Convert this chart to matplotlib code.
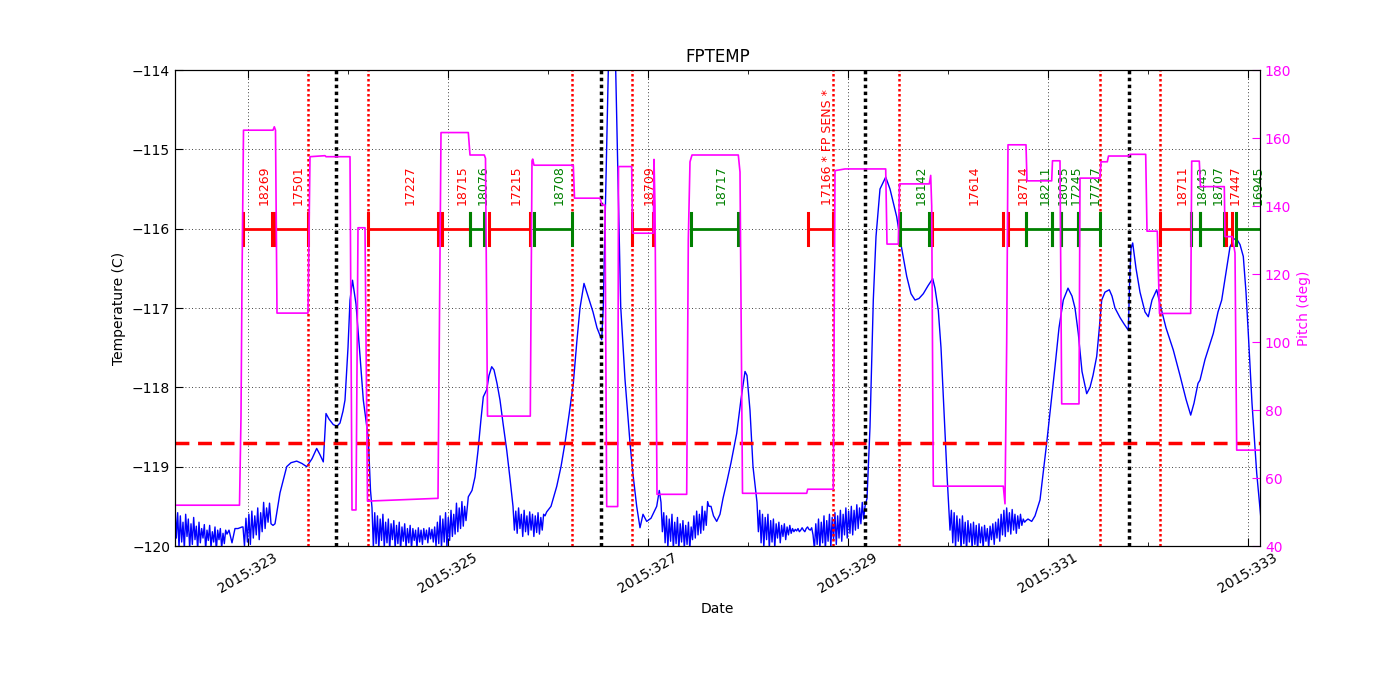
import numpy as np
import matplotlib
matplotlib.use('Agg')
import matplotlib.pyplot as plt
from matplotlib.ticker import FixedLocator

# FPTEMP, smooth stretches (day of 2015, deg C)
temp_days = [322.81, 322.84, 322.87, 322.90, 322.94,
             323.25, 323.27, 323.32, 323.387, 323.43, 323.487, 323.54, 323.587, 323.64, 323.687,
             323.72, 323.753, 323.78, 323.81, 323.853, 323.89, 323.92, 323.95, 323.97, 324.00,
             324.02, 324.045, 324.08, 324.12, 324.153, 324.203, 324.225,
             325.203, 325.24, 325.27, 325.30, 325.33, 325.353, 325.387, 325.41, 325.437, 325.46,
             325.49, 325.52, 325.55, 325.587, 325.62,
             325.987, 326.03, 326.087, 326.13, 326.17, 326.21, 326.253, 326.29, 326.32, 326.36,
             326.40, 326.45, 326.49, 326.537, 326.553, 326.603, 326.64, 326.677, 326.727, 326.77,
             326.82, 326.85, 326.887, 326.92, 326.95, 326.987, 327.03, 327.087, 327.113,
             327.63, 327.655, 327.687, 327.72, 327.75, 327.787, 327.83, 327.887, 327.93, 327.97,
             327.99, 328.02, 328.05,
             329.19, 329.22, 329.253, 329.28, 329.32, 329.377, 329.42, 329.487, 329.53, 329.587,
             329.63, 329.67, 329.71, 329.753, 329.80, 329.847, 329.87, 329.903, 329.93, 329.96, 329.99,
             330.80, 330.837, 330.87, 330.92, 330.95, 330.987, 331.03, 331.07, 331.11, 331.153,
             331.20, 331.24, 331.27, 331.303, 331.34, 331.387, 331.42, 331.45, 331.487, 331.51,
             331.537, 331.57, 331.613, 331.64, 331.67, 331.72, 331.76, 331.803, 331.818, 331.83,
             331.847, 331.88, 331.92, 331.97, 332.003, 332.04, 332.087, 332.12, 332.18, 332.253,
             332.32, 332.38, 332.427, 332.46, 332.50, 332.52, 332.57, 332.653, 332.70, 332.737,
             332.78, 332.82, 332.86, 332.887, 332.92, 332.953, 332.98, 333.003, 333.04, 333.087,
             333.12, 333.14]
temp_vals = [-119.80, -119.96, -119.78, -119.78, -119.76,
             -119.74, -119.72, -119.33, -119.0, -118.95, -118.93, -118.96, -119.0, -118.9, -118.77,
             -118.85, -118.94, -118.33, -118.40, -118.47, -118.49, -118.45, -118.3, -118.16, -117.5,
             -116.9, -116.65, -116.95, -117.6, -118.16, -118.64, -119.3,
             -119.38, -119.3, -119.13, -118.8, -118.4, -118.12, -118.03, -117.85, -117.74, -117.78,
             -117.95, -118.16, -118.45, -118.79, -119.15,
             -119.57, -119.5, -119.25, -119.0, -118.7, -118.35, -117.95, -117.4, -117.0, -116.69,
             -116.85, -117.05, -117.25, -117.4, -116.98, -114.0, -112.7, -114.0, -116.98, -117.9,
             -118.7, -119.1, -119.5, -119.77, -119.6, -119.69, -119.65, -119.5, -119.3,
             -119.5, -119.62, -119.69, -119.6, -119.4, -119.2, -118.95, -118.58, -118.15, -117.8,
             -117.85, -118.29, -119.0,
             -119.40, -118.5, -116.9, -116.1, -115.5, -115.35, -115.5, -115.85, -116.2, -116.6,
             -116.82, -116.9, -116.88, -116.82, -116.72, -116.63, -116.75, -117.03, -117.5, -118.3, -119.1,
             -119.66, -119.69, -119.62, -119.42, -119.1, -118.7, -118.2, -117.74, -117.25, -116.9,
             -116.75, -116.85, -117.0, -117.32, -117.8, -118.08, -118.0, -117.85, -117.61, -117.3,
             -116.9, -116.8, -116.77, -116.85, -117.0, -117.12, -117.2, -117.28, -116.6, -116.25,
             -116.18, -116.5, -116.8, -117.05, -117.11, -116.9, -116.77, -116.95, -117.25, -117.53,
             -117.85, -118.15, -118.35, -118.2, -117.95, -117.91, -117.65, -117.32, -117.05, -116.9,
             -116.55, -116.23, -116.13, -116.13, -116.2, -116.35, -116.8, -117.32, -118.2, -119.08,
             -119.52, -119.8]

# noisy stretches of FPTEMP, evenly sampled from first to last day
noise_a_days = (322.27, 322.79)
noise_a = [-119.48, -119.90, -119.58, -120.02, -119.62, -119.95, -119.70, -120.04, -119.60,
           -119.88, -119.66, -120.03, -119.72, -119.98, -119.64, -119.92, -119.75, -120.05,
           -119.70, -119.96, -119.78, -119.90, -119.73, -120.04, -119.80, -119.93, -119.74,
           -120.02, -119.82, -119.95, -119.76, -120.06, -119.80, -119.92, -119.78, -120.03,
           -119.84, -119.97, -119.80, -119.85]
noise_b_days = (322.95, 323.23)
noise_b = [-119.76, -120.0, -119.65, -119.95, -119.60, -119.98, -119.56, -119.90, -119.62,
           -119.86, -119.52, -119.92, -119.58, -119.82, -119.45, -119.78, -119.52, -119.70,
           -119.46, -119.72]
noise_c_days = (324.24, 325.18)
noise_c = [-119.52, -120.02, -119.58, -119.97, -119.62, -120.04, -119.66, -119.93, -119.60,
           -120.02, -119.70, -119.96, -119.66, -120.05, -119.72, -119.92, -119.68, -120.03,
           -119.74, -119.97, -119.70, -120.05, -119.76, -119.94, -119.72, -120.02, -119.78,
           -119.96, -119.74, -120.04, -119.78, -119.93, -119.80, -120.02, -119.77, -119.95,
           -119.80, -119.98, -119.78, -119.92, -119.80, -119.96, -119.77, -119.91, -119.79,
           -119.95, -119.76, -120.0, -119.70, -119.97, -119.62, -120.03, -119.66, -119.95,
           -119.58, -120.02, -119.64, -119.93, -119.55, -119.88, -119.60, -119.85, -119.46,
           -119.82, -119.52, -119.78, -119.44, -119.75, -119.50, -119.68]
noise_d_days = (325.65, 325.97)
noise_d = [-119.50, -119.80, -119.56, -119.84, -119.52, -119.78, -119.60, -119.88, -119.55,
           -119.82, -119.62, -119.86, -119.57, -119.80, -119.60, -119.88, -119.62, -119.83,
           -119.58, -119.85, -119.64, -119.80, -119.60, -119.62]
noise_e_days = (327.13, 327.61)
noise_e = [-119.45, -119.82, -119.58, -119.96, -119.62, -120.02, -119.66, -119.94, -119.60,
           -120.04, -119.70, -119.97, -119.64, -120.05, -119.72, -119.95, -119.68, -120.03,
           -119.74, -119.98, -119.70, -120.04, -119.76, -119.92, -119.62, -119.90, -119.56,
           -119.86, -119.60, -119.84, -119.50, -119.80, -119.56, -119.74, -119.44, -119.50]
noise_f_days = (328.09, 329.17)
noise_f = [-119.45, -119.82, -119.55, -119.96, -119.60, -120.02, -119.64, -119.92, -119.60,
           -120.03, -119.68, -119.95, -119.66, -120.02, -119.72, -119.90, -119.70, -119.96,
           -119.74, -119.88, -119.72, -119.92, -119.76, -119.86, -119.74, -119.84, -119.78,
           -119.82,
           -119.79, -119.81, -119.78, -119.82, -119.80, -119.77, -119.80, -119.82, -119.78,
           -119.76, -119.79, -119.80, -119.77, -119.86,
           -120.04, -119.72, -119.98, -119.66, -120.03, -119.70, -119.96, -119.62, -120.05,
           -119.68, -119.94, -119.60, -120.02, -119.64, -119.92, -119.58, -119.98, -119.62,
           -119.90, -119.55, -119.94, -119.60, -119.86, -119.52, -119.90, -119.56, -119.84,
           -119.50, -119.86, -119.55, -119.80, -119.48, -119.78, -119.52, -119.72, -119.45,
           -119.66, -119.50]
noise_g_days = (330.02, 330.78)
noise_g = [-119.80, -119.55, -119.96, -119.58, -120.02, -119.62, -119.94, -119.66, -120.04,
           -119.62, -119.97, -119.70, -120.05, -119.68, -119.95, -119.72, -120.03, -119.70,
           -119.98, -119.74, -120.05, -119.72, -119.96, -119.76, -120.03, -119.74, -119.94,
           -119.78, -120.02, -119.75, -119.92, -119.72, -119.98, -119.70, -119.90, -119.66,
           -119.94, -119.60, -119.86, -119.55, -119.88, -119.52, -119.82, -119.58, -119.85,
           -119.54, -119.80, -119.60, -119.84, -119.62, -119.78, -119.60, -119.74, -119.66,
           -119.70, -119.68]

# pitch (deg)
pitch_days = [322.27, 322.915, 322.93, 322.94, 322.955, 323.25, 323.263, 323.275, 323.29, 323.60,
              323.62, 323.77, 323.78, 324.02, 324.04, 324.08, 324.10, 324.17, 324.195, 324.88,
              324.90, 324.93, 325.203, 325.22, 325.363, 325.375, 325.395, 325.823, 325.84,
              325.847, 325.86, 326.253, 326.265, 326.52, 326.54, 326.57, 326.587, 326.697,
              326.705, 326.837, 326.845, 327.053, 327.06, 327.07, 327.09, 327.387, 327.403,
              327.42, 327.44, 327.903, 327.92, 327.945, 328.587, 328.597, 328.853, 328.87,
              328.97, 329.377, 329.39, 329.503, 329.515, 329.813, 329.827, 329.837, 329.853,
              330.553, 330.57, 330.587, 330.60, 330.78, 330.79, 331.037, 331.045, 331.12,
              331.137, 331.31, 331.32, 331.52, 331.53, 331.593, 331.605, 331.81, 331.82,
              331.977, 331.99, 332.093, 332.115, 332.427, 332.437, 332.513, 332.525, 332.763,
              332.77, 332.843, 332.87, 332.887, 333.14]
pitch_vals = [52.0, 52.0, 78.0, 118.0, 162.3, 162.3, 163.3, 162.3, 108.5, 108.5,
              154.5, 154.8, 154.5, 154.5, 50.6, 50.6, 133.6, 133.6, 53.2, 54.0,
              54.0, 161.6, 161.6, 155.0, 155.0, 154.0, 78.2, 78.2, 153.3,
              153.8, 152.0, 152.0, 142.3, 142.3, 140.3, 140.3, 51.6, 51.6,
              151.6, 151.6, 132.0, 132.0, 153.7, 140.0, 55.2, 55.2, 130.0,
              153.0, 155.0, 155.0, 150.0, 55.5, 55.5, 56.7, 56.7, 150.4,
              150.9, 150.9, 128.8, 128.8, 146.5, 146.5, 149.0, 140.0, 57.6,
              57.6, 52.4, 100.0, 158.0, 158.0, 147.4, 147.4, 153.3, 153.3,
              81.8, 81.8, 148.2, 148.2, 153.0, 153.0, 154.7, 154.7, 155.2,
              155.2, 132.6, 132.6, 108.4, 108.4, 153.2, 153.2, 145.7, 145.7,
              131.0, 131.0, 126.2, 68.2, 68.2]

# observations
obs_ids = ['18269', '17501', '17227', '18715', '18076', '17215', '18708', '18709', '18717',
           '17166 * FP SENS *', '18142', '17614', '18714', '18211', '18035', '17245', '17727',
           '18711', '18443', '18707', '17447', '16945']
obs_start = [322.953, 323.273, 324.203, 324.943, 325.22, 325.41, 325.86, 326.843, 327.43,
             328.597, 329.52, 329.843, 330.595, 330.78, 331.037, 331.13, 331.303,
             332.123, 332.427, 332.52, 332.78, 332.88]
obs_stop = [323.237, 323.597, 324.903, 325.22, 325.363, 325.823, 326.243, 327.053, 327.90,
            328.853, 329.813, 330.553, 330.78, 331.037, 331.13, 331.303, 331.517,
            332.427, 332.52, 332.763, 332.843, 333.2]
obs_color = ['r', 'r', 'r', 'r', 'g', 'r', 'g', 'r', 'g',
             'r', 'g', 'r', 'r', 'g', 'g', 'g', 'g',
             'r', 'g', 'g', 'r', 'g']

red_lines = [323.60, 324.20, 326.24, 326.84, 328.85, 329.51, 331.52, 332.12]
black_lines = [323.88, 326.53, 329.17, 331.81]
temp_limit = -118.7

major_days = [323, 325, 327, 329, 331, 333]
minor_days = [324, 326, 328, 330, 332]
day_labels = ['2015:323', '2015:325', '2015:327', '2015:329', '2015:331', '2015:333']

# put the temperature pieces together in time order
all_days = list(temp_days)
all_vals = list(temp_vals)
for (d0, d1), vals in [(noise_a_days, noise_a), (noise_b_days, noise_b), (noise_c_days, noise_c),
                       (noise_d_days, noise_d), (noise_e_days, noise_e), (noise_f_days, noise_f),
                       (noise_g_days, noise_g)]:
    all_days += list(np.linspace(d0, d1, len(vals)))
    all_vals += vals
order = np.argsort(all_days)
t_days = np.array(all_days)[order]
t_vals = np.array(all_vals)[order]

fig = plt.figure(figsize=(14, 7), dpi=100)
ax = fig.add_axes([0.125, 0.22, 0.775, 0.68])

ax.plot(t_days, t_vals, color='b', lw=1.0)
ax.axhline(temp_limit, color='r', lw=2.5, ls=(0, (4, 2.5)))
for d in red_lines:
    ax.axvline(d, color='r', lw=1.8, ls=(0, (1, 1)))
for d in black_lines:
    ax.axvline(d, color='k', lw=2.5, ls=(0, (1, 1)))

# observation bars at -116
for oid, d0, d1, c in zip(obs_ids, obs_start, obs_stop, obs_color):
    ax.plot([d0, d1], [-116, -116], color=c, lw=2.0)
    ax.plot([d0, d0], [-116.2, -115.8], color=c, lw=2.2)
    ax.plot([d1, d1], [-116.2, -115.8], color=c, lw=2.2)
    ax.text((d0 + d1) / 2, -115.7, oid, color=c, rotation=90, ha='left', va='bottom',
            fontsize=9)

ax.set_xlim(322.27, 333.12)
ax.set_ylim(-120, -114)
ax.xaxis.set_major_locator(FixedLocator(major_days))
ax.xaxis.set_minor_locator(FixedLocator(minor_days))
ax.set_xticklabels(day_labels, rotation=30, ha='center', fontsize=10)
ax.set_yticks(np.arange(-120, -113, 1))
ax.tick_params(axis='y', labelsize=10)
ax.tick_params(which='both', direction='in', top=True)
ax.tick_params(which='major', length=6)
ax.tick_params(which='minor', length=3)
ax.grid(True, color='k', ls=(0, (1, 3)), lw=0.6)
ax.set_xlabel('Date', fontsize=10)
ax.set_ylabel('Temperature (C)', fontsize=10)
ax.set_title('FPTEMP', fontsize=12)

ax2 = ax.twinx()
ax2.plot(pitch_days, pitch_vals, color='magenta', lw=1.2)
ax2.set_ylim(40, 180)
ax2.set_yticks(np.arange(40, 181, 20))
ax2.tick_params(axis='y', direction='in', length=6, labelsize=10, colors='magenta')
ax2.set_ylabel('Pitch (deg)', fontsize=10, color='magenta')
ax2.set_xlim(322.27, 333.12)
for sp in ax2.spines.values():
    sp.set_color('k')

fig.savefig('out.png', dpi=100, facecolor='white')
